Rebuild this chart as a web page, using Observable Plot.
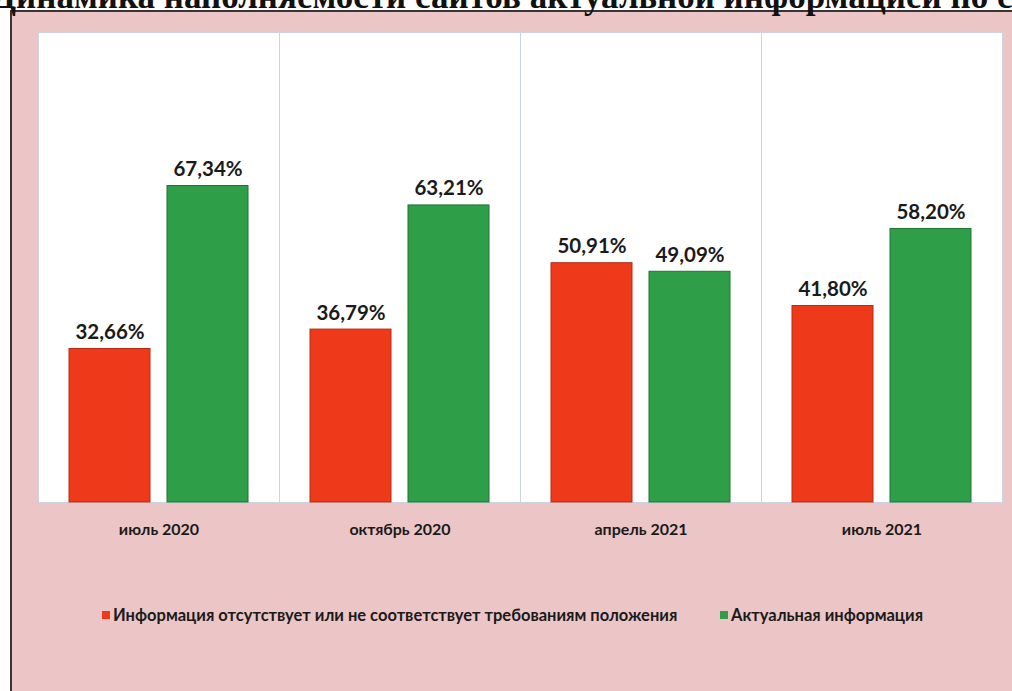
<!DOCTYPE html>
<html><head><meta charset="utf-8">
<script src="https://cdn.jsdelivr.net/npm/d3@7"></script>
<script src="https://cdn.jsdelivr.net/npm/@observablehq/plot@0.6"></script>
<style>
html,body{margin:0;padding:0;width:1012px;height:691px;overflow:hidden;background:#fff;}
#title{position:absolute;left:-8px;top:-20px;white-space:nowrap;font:bold 35px/34px "Liberation Serif","Times New Roman",serif;color:#111;z-index:3}
#box{position:absolute;left:10px;top:10px;width:1100px;height:800px;background:#ecc6c6;border:2px solid #3a3434;z-index:1}
#chart{position:absolute;left:0;top:0;z-index:2}
.leg{position:absolute;top:605px;white-space:nowrap;font:bold 16.5px "Lato",sans-serif;color:#1a1a1a;z-index:3;display:flex;align-items:center}
.sw{display:inline-block;width:8px;height:8px;margin-right:3px}
</style>
</head><body>
<div id="title">Динамика наполняемости сайтов актуальной информацией по состоянию</div>
<div id="box"></div>
<div id="chart"></div>
<div id="legend"></div>
<script>
const periods = ["июль 2020", "октябрь 2020", "апрель 2021", "июль 2021"];
const seriesNames = ["Информация отсутствует или не соответствует требованиям положения", "Актуальная информация"];
const missingValues = [32.66, 36.79, 50.91, 41.80];
const actualValues = [67.34, 63.21, 49.09, 58.20];
const seriesColors = ["#ee3a1a", "#2f9e49"];
const seriesStrokes = ["#b52a12", "#1f7434"];

const rows = [];
periods.forEach((p, i) => {
  rows.push({period: p, series: seriesNames[0], value: missingValues[i]});
  rows.push({period: p, series: seriesNames[1], value: actualValues[i]});
});
const fmt = v => d3.format(".2f")(v).replace(".", ",") + "%";

const chart = Plot.plot({
  width: 1012,
  height: 691,
  marginLeft: 37,
  marginRight: 9,
  marginTop: 32,
  marginBottom: 189,
  style: {background: "transparent", fontFamily: "Lato, sans-serif", fontSize: "16px", fontWeight: "bold", color: "#1a1a1a"},
  fx: {domain: periods, padding: 0, label: null, tickSize: 0, tickPadding: 21},
  x: {domain: seriesNames, axis: null, paddingInner: 0.17, paddingOuter: 0.31},
  y: {domain: [0, 100], axis: null},
  color: {domain: seriesNames, range: seriesColors},
  marks: [
    Plot.frame({fill: "white", stroke: "#cdd3e2", strokeWidth: 1}),
    Plot.barY(rows, {fx: "period", x: "series", y: "value", fill: "series",
      stroke: d => d.series === seriesNames[0] ? seriesStrokes[0] : seriesStrokes[1], strokeWidth: 1}),
    Plot.text(rows, {fx: "period", x: "series", y: "value", text: d => fmt(d.value),
      lineAnchor: "bottom", dy: -10, fontSize: 20.5, fontWeight: "bold", fill: "#1a1a1a"})
  ]
});
document.getElementById("chart").appendChild(chart);

const legend = document.getElementById("legend");
const legendLeft = [102, 720];
seriesNames.forEach((s, i) => {
  const d = document.createElement("div");
  d.className = "leg";
  d.style.left = legendLeft[i] + "px";
  d.innerHTML = `<span class="sw" style="background:${seriesColors[i]}"></span><span>${s}</span>`;
  legend.appendChild(d);
});
</script>
</body></html>
